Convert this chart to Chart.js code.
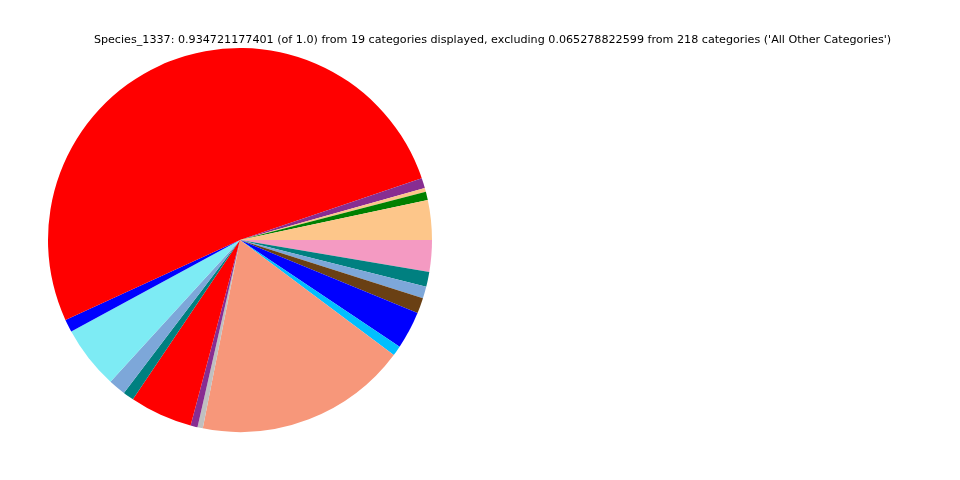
<!DOCTYPE html>
<html>
<head>
<meta charset="utf-8">
<script src="https://cdn.jsdelivr.net/npm/chart.js@4/dist/chart.umd.min.js"></script>
<style>
  html, body { margin: 0; padding: 0; background: #fff; }
  #wrap { position: relative; width: 960px; height: 480px; }
  #title {
    position: absolute; left: 0; top: 33px; width: 985px; text-align: center;
    font-family: "DejaVu Sans", sans-serif; font-size: 11.15px; color: #000; white-space: nowrap;
  }
</style>
</head>
<body>
<div id="wrap">
  <div id="title">Species_1337: 0.934721177401 (of 1.0) from 19 categories displayed, excluding 0.065278822599 from 218 categories ('All Other Categories')</div>
  <canvas id="pieChart" width="960" height="480"></canvas>
</div>
<script>
// slices in matplotlib order (counter-clockwise from 3 o'clock)
const categories = ['Cat_01', 'Cat_02', 'Cat_03', 'Cat_04', 'Cat_05', 'Cat_06', 'Cat_07', 'Cat_08', 'Cat_09', 'Cat_10',
                    'Cat_11', 'Cat_12', 'Cat_13', 'Cat_14', 'Cat_15', 'Cat_16', 'Cat_17', 'Cat_18', 'Cat_19'];
const fractions = [0.0312, 0.0065, 0.0031, 0.0080, 0.4824, 0.0101, 0.0496, 0.0135, 0.0086, 0.0493,
                   0.0055, 0.0042, 0.1672, 0.0078, 0.0296, 0.0122, 0.0093, 0.0117, 0.0249];
const colors = ['#FDC68A', '#008000', '#FDC68A', '#882D91', '#FF0000', '#0000FF', '#7DEBF4', '#7DA7D9', '#008080', '#FF0000',
                '#882D91', '#C0C0C0', '#F7977A', '#00BFFF', '#0000FF', '#6A4014', '#7DA7D9', '#008080', '#F49AC2'];

// Chart.js draws clockwise, so reverse and start at 3 o'clock
const ctx = document.getElementById('pieChart').getContext('2d');
const pieChart = new Chart(ctx, {
    type: 'pie',
    data: {
        labels: categories.slice().reverse(),
        datasets: [{
            data: fractions.slice().reverse(),
            backgroundColor: colors.slice().reverse(),
            borderWidth: 0
        }]
    },
    options: {
        responsive: false,
        animation: false,
        rotation: 90,
        layout: { padding: { left: 48, right: 528, top: 48, bottom: 48 } },
        plugins: {
            legend: { display: false },
            tooltip: { enabled: false }
        }
    }
});
</script>
</body>
</html>
